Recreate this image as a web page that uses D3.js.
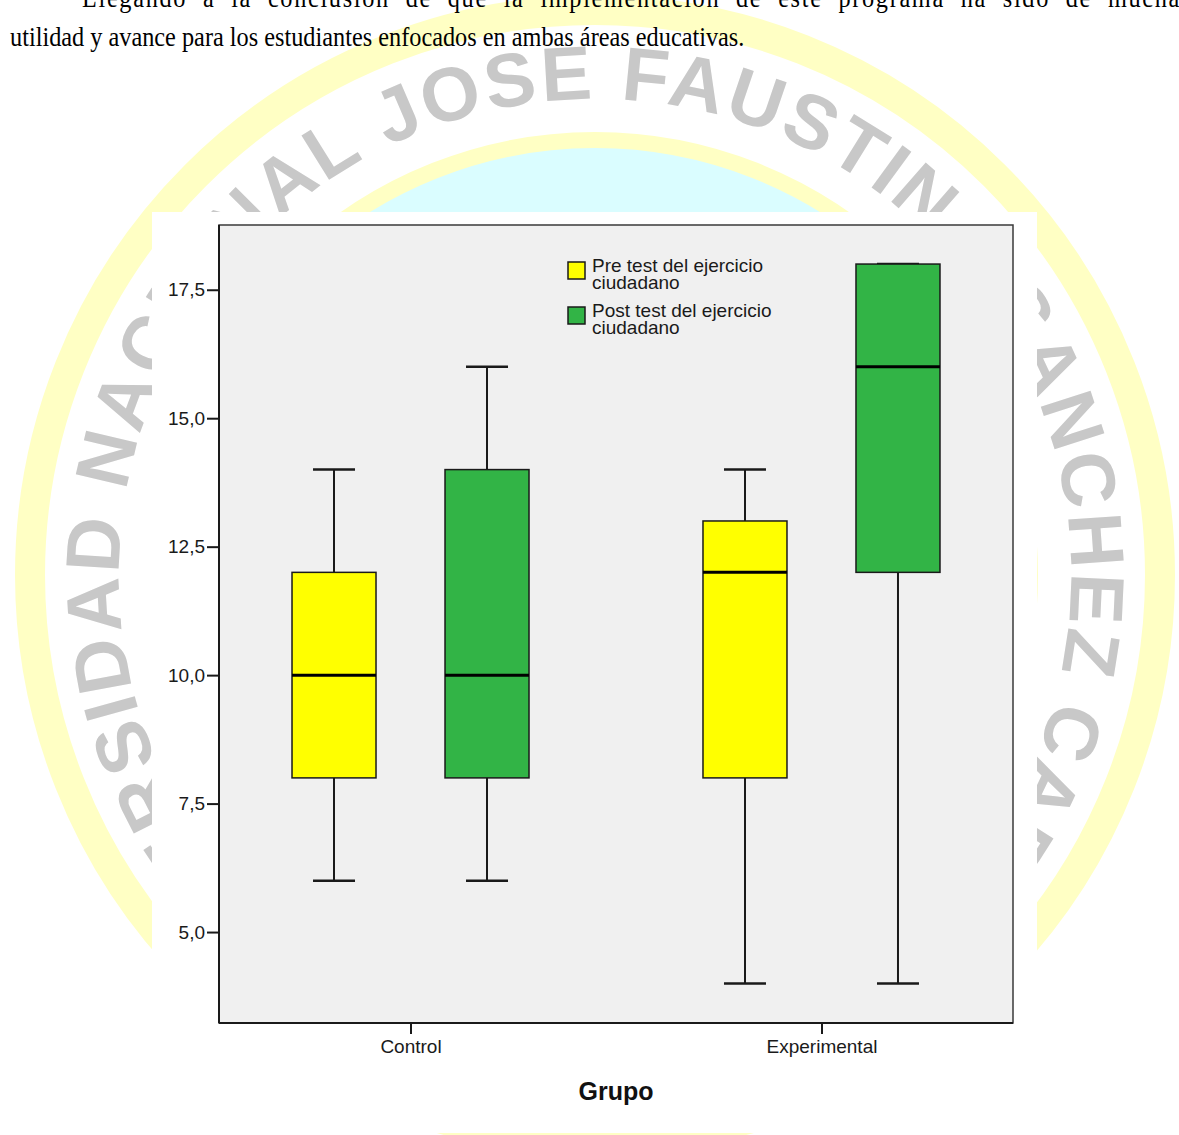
<!DOCTYPE html>
<html>
<head>
<meta charset="utf-8">
<script src="https://cdn.jsdelivr.net/npm/d3@7"></script>
<style>
  html, body { margin: 0; padding: 0; background: #ffffff; }
  svg { display: block; }
</style>
</head>
<body>
<div id="chart"></div>
<script>
// ---------------- data ----------------
const groups = ["Control", "Experimental"];
const series = ["Pre test del ejercicio ciudadano", "Post test del ejercicio ciudadano"];
const legendLines = [["Pre test del ejercicio", "ciudadano"], ["Post test del ejercicio", "ciudadano"]];
// order of boxes: Control-Pre, Control-Post, Experimental-Pre, Experimental-Post
const boxGroup   = ["Control", "Control", "Experimental", "Experimental"];
const boxSeries  = [series[0], series[1], series[0], series[1]];
const whiskerLow = [6, 6, 4, 4];
const q1         = [8, 8, 8, 12];
const median     = [10, 10, 12, 16];
const q3         = [12, 14, 13, 18];
const whiskerHigh= [14, 16, 14, 18];
const yTicks     = [5, 7.5, 10, 12.5, 15, 17.5];
const xTitle = "Grupo";
const pageLines = [
  "Llegando a la conclusión de que la implementación de este programa ha sido de mucha",
  "utilidad y avance para los estudiantes enfocados en ambas áreas educativas."
];
const sealText = "UNIVERSIDAD NACIONAL JOSE FAUSTINO SANCHEZ CARRION";

// ---------------- layout ----------------
const W = 1179, H = 1135;
const svg = d3.select("#chart").append("svg").attr("width", W).attr("height", H);

// ---- watermark seal (page background) ----
const seal = { cx: 595, cy: 575 };
const wm = svg.append("g");
wm.append("circle").attr("cx", seal.cx).attr("cy", seal.cy).attr("r", 565)
  .attr("fill", "none").attr("stroke", "#ffffc4").attr("stroke-width", 30);
wm.append("circle").attr("cx", seal.cx).attr("cy", seal.cy).attr("r", 435)
  .attr("fill", "#dafdff").attr("stroke", "#ffffc4").attr("stroke-width", 16);
const rText = 476;
wm.append("path").attr("id", "sealPath")
  .attr("d", `M ${seal.cx} ${seal.cy + rText} A ${rText} ${rText} 0 1 1 ${seal.cx} ${seal.cy - rText} A ${rText} ${rText} 0 1 1 ${seal.cx} ${seal.cy + rText}`)
  .attr("fill", "none");
wm.append("text")
  .attr("font-family", "Liberation Sans, Arial, sans-serif")
  .attr("font-weight", "bold").attr("font-size", 76).attr("fill", "#c8c8c8")
  .append("textPath").attr("href", "#sealPath")
  .attr("startOffset", "50%").attr("text-anchor", "middle")
  .attr("textLength", 2 * Math.PI * rText * 300 / 360).attr("lengthAdjust", "spacing")
  .text(sealText);

// ---- page text (justified first line, condensed serif) ----
const sx = 0.9;
const pt = svg.append("g").attr("transform", `scale(${sx},1)`)
  .attr("font-family", "Liberation Serif, 'Times New Roman', serif")
  .attr("font-size", 27).attr("fill", "#000");
const l1 = pt.append("text").attr("x", 82 / sx).attr("y", 7).text(pageLines[0]);
pt.append("text").attr("x", 10 / sx).attr("y", 46).text(pageLines[1]);
{
  const target = (1181 - 82) / sx;
  const len = l1.node().getComputedTextLength();
  const nCh = pageLines[0].length;
  const nSp = pageLines[0].split(" ").length - 1;
  const extra = target - len;
  const ls = (extra * 0.55) / nCh;
  l1.attr("letter-spacing", ls).attr("word-spacing", (extra * 0.45) / nSp);
}

// ---- chart image area ----
svg.append("rect").attr("x", 152).attr("y", 212).attr("width", 885).attr("height", 921).attr("fill", "#ffffff");

const plot = { left: 219, right: 1013, top: 225, bottom: 1023 };
const g = svg.append("g");
g.append("rect").attr("x", plot.left).attr("y", plot.top)
  .attr("width", plot.right - plot.left).attr("height", plot.bottom - plot.top)
  .attr("fill", "#f0f0f0").attr("stroke", "#3a3a3a").attr("stroke-width", 1.5);

const y = d3.scaleLinear().domain([3.23, 18.76]).range([plot.bottom, plot.top]);
const x0 = d3.scalePoint().domain(groups).range([plot.left, plot.right]).padding(0.466);
const x1 = d3.scalePoint().domain(series).range([-76.5, 76.5]);
const color = d3.scaleOrdinal().domain(series).range(["#ffff00", "#32b446"]);
const boxW = 84, capW = 42;

const fmt = v => d3.format(".1f")(v).replace(".", ",");
const font = "Liberation Sans, Arial, sans-serif";

const yAxis = g.append("g").attr("transform", `translate(${plot.left},0)`)
  .call(d3.axisLeft(y).tickValues(yTicks).tickFormat(fmt).tickSize(12).tickPadding(2));
const xAxis = g.append("g").attr("transform", `translate(0,${plot.bottom})`)
  .call(d3.axisBottom(x0).tickSize(11).tickPadding(6));
[yAxis, xAxis].forEach(a => {
  a.select(".domain").attr("stroke", "#1a1a1a").attr("stroke-width", 2);
  a.selectAll(".tick line").attr("stroke", "#1a1a1a").attr("stroke-width", 2);
  a.selectAll(".tick text").attr("font-family", font).attr("font-size", 19).attr("fill", "#1a1a1a");
});
xAxis.select(".domain").attr("d", `M${plot.left},0H${plot.right}`);
yAxis.select(".domain").attr("d", `M0,${plot.bottom}V${plot.top}`);

// ---- boxes ----
const boxes = d3.range(whiskerLow.length).map(i => ({
  g: boxGroup[i], s: boxSeries[i], lo: whiskerLow[i], q1: q1[i], med: median[i], q3: q3[i], hi: whiskerHigh[i]
}));
const bg = g.selectAll(".box").data(boxes).join("g").attr("class", "box")
  .attr("transform", d => `translate(${x0(d.g) + x1(d.s)},0)`);
bg.append("line").attr("x1", 0).attr("x2", 0).attr("y1", d => y(d.hi)).attr("y2", d => y(d.q3))
  .attr("stroke", "#1a1a1a").attr("stroke-width", 2);
bg.append("line").attr("x1", 0).attr("x2", 0).attr("y1", d => y(d.q1)).attr("y2", d => y(d.lo))
  .attr("stroke", "#1a1a1a").attr("stroke-width", 2);
bg.append("line").attr("x1", -capW / 2).attr("x2", capW / 2).attr("y1", d => y(d.hi)).attr("y2", d => y(d.hi))
  .attr("stroke", "#1a1a1a").attr("stroke-width", 2.5);
bg.append("line").attr("x1", -capW / 2).attr("x2", capW / 2).attr("y1", d => y(d.lo)).attr("y2", d => y(d.lo))
  .attr("stroke", "#1a1a1a").attr("stroke-width", 2.5);
bg.append("rect").attr("x", -boxW / 2).attr("width", boxW)
  .attr("y", d => y(d.q3)).attr("height", d => y(d.q1) - y(d.q3))
  .attr("fill", d => color(d.s)).attr("stroke", "#1a1a1a").attr("stroke-width", 1.5);
bg.append("line").attr("x1", -boxW / 2).attr("x2", boxW / 2).attr("y1", d => y(d.med)).attr("y2", d => y(d.med))
  .attr("stroke", "#000").attr("stroke-width", 3);

// ---- legend ----
const lg = g.append("g").attr("transform", "translate(568,262)");
const li = lg.selectAll("g").data(series).join("g").attr("transform", (d, i) => `translate(0,${i * 45})`);
li.append("rect").attr("width", 17).attr("height", 17).attr("fill", d => color(d))
  .attr("stroke", "#1a1a1a").attr("stroke-width", 1.5);
li.append("text").attr("font-family", font).attr("font-size", 19).attr("fill", "#1a1a1a")
  .selectAll("tspan").data((d, i) => legendLines[i]).join("tspan")
  .attr("x", 24).attr("y", (d, j) => 10 + j * 17).text(d => d);

// ---- x title ----
g.append("text").attr("x", (plot.left + plot.right) / 2).attr("y", 1100)
  .attr("text-anchor", "middle").attr("font-family", font).attr("font-weight", "bold")
  .attr("font-size", 25).attr("fill", "#111").text(xTitle);
</script>
</body>
</html>
